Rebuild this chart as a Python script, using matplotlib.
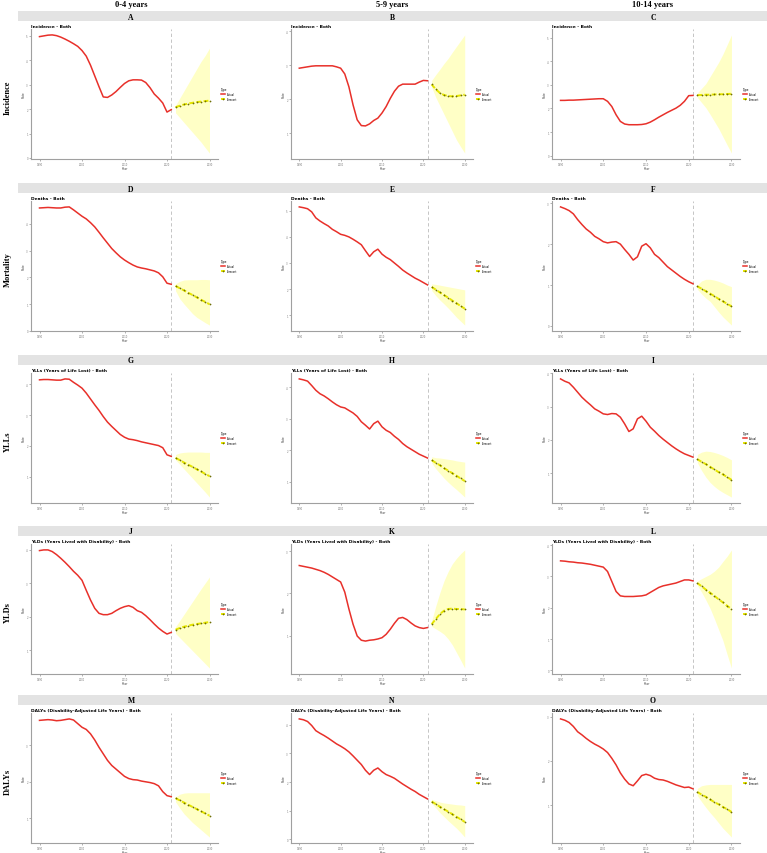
import numpy as np
import matplotlib
matplotlib.use("Agg")
from matplotlib import pyplot as plt
from matplotlib.patches import Rectangle
from matplotlib.ticker import MultipleLocator

# years
years_actual = list(range(1990, 2022))
years_fc = list(range(2022, 2031))

col_titles = ["0-4 years", "5-9 years", "10-14 years"]
row_labels = ["Incidence", "Mortality", "YLLs", "YLDs", "DALYs"]
measure_titles = ["Incidence - Both", "Deaths - Both", "YLLs (Years of Life Lost) - Both",
                  "YLDs (Years Lived with Disability) - Both",
                  "DALYs (Disability-Adjusted Life Years) - Both"]
letters = ["A", "B", "C", "D", "E", "F", "G", "H", "I", "J", "K", "L", "M", "N", "O"]

# ---- Incidence ----
a_actual = [4.97, 5.00, 5.03, 5.04, 5.01, 4.95, 4.87, 4.78, 4.68, 4.57, 4.40, 4.17, 3.80, 3.36, 2.92, 2.50,
            2.48, 2.58, 2.72, 2.89, 3.05, 3.16, 3.20, 3.20, 3.19, 3.09, 2.88, 2.62, 2.45, 2.25, 1.88, 1.98]
a_fc = [2.08, 2.14, 2.19, 2.23, 2.26, 2.29, 2.31, 2.33, 2.35]
a_hi = [2.15, 2.45, 2.75, 3.05, 3.35, 3.65, 3.95, 4.20, 4.50]
a_lo = [1.85, 1.65, 1.45, 1.25, 1.05, 0.85, 0.65, 0.42, 0.20]

b_actual = [2.91, 2.93, 2.95, 2.97, 2.98, 2.98, 2.98, 2.98, 2.98, 2.95, 2.91, 2.74, 2.36, 1.83, 1.39, 1.22,
            1.21, 1.27, 1.37, 1.44, 1.59, 1.78, 2.02, 2.23, 2.38, 2.44, 2.44, 2.44, 2.44, 2.50, 2.55, 2.54]
b_fc = [2.43, 2.29, 2.18, 2.12, 2.09, 2.08, 2.09, 2.11, 2.13]
b_hi = [2.55, 2.72, 2.88, 3.05, 3.20, 3.38, 3.55, 3.72, 3.89]
b_lo = [2.35, 2.05, 1.80, 1.55, 1.30, 1.05, 0.80, 0.60, 0.41]

c_actual = [2.34, 2.34, 2.35, 2.35, 2.36, 2.37, 2.38, 2.39, 2.40, 2.41, 2.41, 2.30, 2.08, 1.73, 1.45, 1.34,
            1.31, 1.31, 1.31, 1.32, 1.35, 1.42, 1.52, 1.63, 1.73, 1.83, 1.92, 2.01, 2.13, 2.30, 2.54, 2.55]
c_fc = [2.56, 2.57, 2.58, 2.58, 2.59, 2.60, 2.60, 2.61, 2.62]
c_hi = [2.65, 2.85, 3.05, 3.35, 3.65, 3.95, 4.30, 4.70, 5.11]
c_lo = [2.47, 2.25, 2.03, 1.75, 1.45, 1.15, 0.80, 0.45, 0.11]

# ---- Deaths ----
d_actual = [4.60, 4.61, 4.62, 4.61, 4.60, 4.60, 4.63, 4.64, 4.53, 4.41, 4.29, 4.19, 4.05, 3.89, 3.69, 3.48,
            3.28, 3.08, 2.92, 2.77, 2.65, 2.55, 2.46, 2.39, 2.35, 2.32, 2.28, 2.24, 2.17, 2.02, 1.78, 1.74]
d_fc = [1.68, 1.59, 1.51, 1.42, 1.34, 1.25, 1.16, 1.08, 0.99]
d_hi = [1.76, 1.85, 1.90, 1.91, 1.91, 1.91, 1.92, 1.92, 1.91]
d_lo = [1.50, 1.20, 1.00, 0.82, 0.64, 0.50, 0.40, 0.30, 0.21]

e_actual = [5.15, 5.12, 5.08, 4.96, 4.73, 4.61, 4.51, 4.42, 4.29, 4.20, 4.10, 4.06, 4.00, 3.91, 3.81, 3.70,
            3.47, 3.25, 3.43, 3.53, 3.34, 3.22, 3.13, 3.00, 2.87, 2.73, 2.62, 2.52, 2.42, 2.34, 2.25, 2.16]
e_fc = [2.08, 1.98, 1.87, 1.77, 1.67, 1.56, 1.46, 1.35, 1.25]
e_hi = [2.20, 2.18, 2.15, 2.12, 2.09, 2.06, 2.03, 2.00, 1.97]
e_lo = [1.95, 1.75, 1.58, 1.43, 1.27, 1.10, 0.92, 0.77, 0.62]

f_actual = [2.91, 2.87, 2.82, 2.74, 2.60, 2.48, 2.37, 2.29, 2.19, 2.13, 2.06, 2.03, 2.05, 2.06, 2.00, 1.87,
            1.75, 1.61, 1.69, 1.95, 2.01, 1.91, 1.75, 1.67, 1.56, 1.45, 1.37, 1.29, 1.21, 1.14, 1.08, 1.03]
f_fc = [0.97, 0.91, 0.85, 0.79, 0.73, 0.66, 0.60, 0.54, 0.48]
f_hi = [1.00, 1.10, 1.14, 1.14, 1.12, 1.09, 1.05, 1.00, 0.96]
f_lo = [0.90, 0.78, 0.68, 0.60, 0.47, 0.34, 0.22, 0.12, 0.02]

# ---- YLLs ----
g_actual = [4.14, 4.15, 4.15, 4.14, 4.13, 4.13, 4.17, 4.16, 4.06, 3.97, 3.87, 3.71, 3.52, 3.33, 3.15, 2.95,
            2.77, 2.63, 2.50, 2.37, 2.28, 2.22, 2.20, 2.17, 2.13, 2.10, 2.07, 2.04, 2.01, 1.94, 1.71, 1.66]
g_fc = [1.61, 1.54, 1.46, 1.39, 1.32, 1.24, 1.17, 1.09, 1.02]
g_hi = [1.72, 1.77, 1.79, 1.80, 1.80, 1.80, 1.80, 1.79, 1.79]
g_lo = [1.55, 1.40, 1.25, 1.10, 0.95, 0.80, 0.65, 0.50, 0.34]

h_actual = [4.27, 4.24, 4.20, 4.06, 3.91, 3.80, 3.73, 3.64, 3.54, 3.45, 3.38, 3.35, 3.27, 3.19, 3.08, 2.91,
            2.80, 2.68, 2.85, 2.93, 2.75, 2.64, 2.57, 2.45, 2.35, 2.22, 2.12, 2.04, 1.96, 1.88, 1.82, 1.76]
h_fc = [1.69, 1.61, 1.53, 1.44, 1.36, 1.28, 1.20, 1.11, 1.03]
h_hi = [1.80, 1.77, 1.76, 1.74, 1.72, 1.70, 1.67, 1.65, 1.63]
h_lo = [1.60, 1.42, 1.27, 1.12, 0.99, 0.87, 0.76, 0.64, 0.52]

i_actual = [3.83, 3.76, 3.71, 3.58, 3.43, 3.28, 3.16, 3.05, 2.93, 2.86, 2.78, 2.76, 2.79, 2.78, 2.68, 2.48,
            2.25, 2.33, 2.63, 2.71, 2.56, 2.38, 2.26, 2.13, 2.02, 1.92, 1.82, 1.73, 1.65, 1.58, 1.53, 1.48]
i_fc = [1.42, 1.34, 1.27, 1.19, 1.11, 1.03, 0.96, 0.88, 0.80]
i_hi = [1.56, 1.63, 1.66, 1.65, 1.62, 1.58, 1.53, 1.47, 1.40]
i_lo = [1.32, 1.08, 0.88, 0.72, 0.60, 0.50, 0.42, 0.35, 0.28]

# ---- YLDs ----
j_actual = [3.98, 4.00, 4.00, 3.95, 3.86, 3.75, 3.63, 3.50, 3.36, 3.24, 3.09, 2.79, 2.50, 2.25, 2.10, 2.06,
            2.06, 2.10, 2.18, 2.25, 2.30, 2.33, 2.28, 2.18, 2.13, 2.03, 1.91, 1.78, 1.66, 1.56, 1.48, 1.53]
j_fc = [1.61, 1.66, 1.70, 1.73, 1.76, 1.78, 1.80, 1.82, 1.84]
j_hi = [1.70, 1.88, 2.07, 2.26, 2.45, 2.64, 2.83, 3.01, 3.19]
j_lo = [1.50, 1.37, 1.24, 1.11, 0.98, 0.85, 0.72, 0.59, 0.46]

k_actual = [2.66, 2.64, 2.62, 2.60, 2.57, 2.54, 2.50, 2.45, 2.39, 2.33, 2.27, 2.03, 1.63, 1.27, 0.99, 0.89,
            0.87, 0.89, 0.90, 0.92, 0.95, 1.03, 1.15, 1.29, 1.41, 1.43, 1.38, 1.30, 1.23, 1.19, 1.17, 1.19]
k_fc = [1.27, 1.39, 1.51, 1.59, 1.63, 1.64, 1.63, 1.63, 1.62]
k_hi = [1.35, 1.70, 2.02, 2.30, 2.52, 2.70, 2.83, 2.94, 3.03]
k_lo = [1.22, 1.16, 1.10, 1.03, 0.92, 0.78, 0.60, 0.42, 0.23]

l_actual = [3.50, 3.49, 3.47, 3.46, 3.44, 3.43, 3.41, 3.39, 3.36, 3.33, 3.30, 3.16, 2.84, 2.52, 2.38, 2.36,
            2.36, 2.36, 2.37, 2.38, 2.41, 2.49, 2.57, 2.65, 2.70, 2.73, 2.76, 2.79, 2.84, 2.89, 2.89, 2.86]
l_fc = [2.79, 2.69, 2.58, 2.48, 2.38, 2.27, 2.17, 2.06, 1.96]
l_hi = [2.85, 2.93, 3.00, 3.07, 3.17, 3.30, 3.48, 3.65, 3.85]
l_lo = [2.72, 2.50, 2.25, 1.98, 1.65, 1.30, 0.95, 0.50, 0.07]

# ---- DALYs ----
m_actual = [3.69, 3.70, 3.71, 3.70, 3.68, 3.69, 3.71, 3.73, 3.70, 3.60, 3.50, 3.44, 3.32, 3.15, 2.95, 2.77,
            2.59, 2.45, 2.35, 2.25, 2.15, 2.09, 2.06, 2.05, 2.02, 2.00, 1.98, 1.95, 1.89, 1.73, 1.62, 1.59]
m_fc = [1.55, 1.49, 1.43, 1.37, 1.31, 1.25, 1.19, 1.13, 1.07]
m_hi = [1.58, 1.66, 1.69, 1.70, 1.70, 1.70, 1.70, 1.70, 1.70]
m_lo = [1.45, 1.28, 1.12, 1.00, 0.88, 0.78, 0.68, 0.58, 0.48]

n_actual = [4.20, 4.17, 4.11, 3.97, 3.79, 3.70, 3.62, 3.53, 3.43, 3.33, 3.25, 3.16, 3.05, 2.91, 2.76, 2.61,
            2.41, 2.26, 2.41, 2.49, 2.36, 2.26, 2.20, 2.13, 2.03, 1.93, 1.84, 1.75, 1.67, 1.57, 1.49, 1.41]
n_fc = [1.32, 1.23, 1.14, 1.05, 0.97, 0.88, 0.79, 0.70, 0.61]
n_hi = [1.40, 1.35, 1.30, 1.27, 1.25, 1.23, 1.21, 1.20, 1.18]
n_lo = [1.25, 1.10, 0.93, 0.79, 0.65, 0.52, 0.39, 0.24, 0.08]

o_actual = [2.95, 2.92, 2.87, 2.78, 2.66, 2.59, 2.51, 2.44, 2.38, 2.33, 2.27, 2.19, 2.06, 1.91, 1.73, 1.59,
            1.48, 1.44, 1.55, 1.67, 1.70, 1.67, 1.61, 1.58, 1.57, 1.54, 1.50, 1.46, 1.43, 1.40, 1.41, 1.37]
o_fc = [1.30, 1.24, 1.19, 1.13, 1.07, 1.02, 0.96, 0.91, 0.85]
o_hi = [1.38, 1.44, 1.46, 1.47, 1.47, 1.47, 1.47, 1.47, 1.47]
o_lo = [1.22, 1.08, 0.95, 0.83, 0.72, 0.60, 0.48, 0.38, 0.28]

panels = [
    (a_actual, a_fc, a_lo, a_hi), (b_actual, b_fc, b_lo, b_hi), (c_actual, c_fc, c_lo, c_hi),
    (d_actual, d_fc, d_lo, d_hi), (e_actual, e_fc, e_lo, e_hi), (f_actual, f_fc, f_lo, f_hi),
    (g_actual, g_fc, g_lo, g_hi), (h_actual, h_fc, h_lo, h_hi), (i_actual, i_fc, i_lo, i_hi),
    (j_actual, j_fc, j_lo, j_hi), (k_actual, k_fc, k_lo, k_hi), (l_actual, l_fc, l_lo, l_hi),
    (m_actual, m_fc, m_lo, m_hi), (n_actual, n_fc, n_lo, n_hi), (o_actual, o_fc, o_lo, o_hi),
]

W, H = 767, 854
fig = plt.figure(figsize=(W / 100, H / 100), dpi=100)
fig.patch.set_facecolor("white")

serif = "Liberation Serif"
strip_tops = [12, 184, 356, 527, 696]
col_lr = [(31, 218), (291, 473), (552, 740)]
col_centers = [131, 392, 653]


def fx(px):
    return px / W


def fy(py):
    return 1 - py / H


# column headers
for c, t in enumerate(col_titles):
    fig.text(fx(col_centers[c]), fy(5), t, ha="center", va="center",
             family=serif, fontweight="bold", fontsize=6)

for r in range(5):
    st = strip_tops[r]
    # grey strip across the row
    fig.patches.append(Rectangle((fx(18), fy(st + 10)), fx(767) - fx(18), 10 / H,
                                 transform=fig.transFigure, facecolor="#E3E3E3",
                                 edgecolor="none", zorder=0))
    fig.text(fx(8), fy(st + 86), row_labels[r], rotation=90, ha="center", va="center",
             family=serif, fontweight="bold", fontsize=6)

    for c in range(3):
        idx = r * 3 + c
        actual, fc, lo, hi = panels[idx]
        fig.text(fx(col_centers[c]), fy(st + 5.5), letters[idx], ha="center", va="center",
                 family=serif, fontweight="bold", fontsize=5.5)

        left, right = col_lr[c]
        top, bottom = st + 18, st + 148
        ax = fig.add_axes([fx(left), fy(bottom), (right - left) / W, (bottom - top) / H])

        ax.fill_between(years_fc, lo, hi, color="#FFFFB8", alpha=0.8, linewidth=0, zorder=1)
        ax.axvline(2021, color="#BBBBBB", linestyle=(0, (4, 3)), linewidth=0.6, zorder=1)
        ax.plot(years_actual, actual, color="#E8302A", linewidth=1.1, label="Actual", zorder=3)
        ax.plot(years_fc, fc, color="#E6E600", linewidth=1.4, linestyle=(0, (2.5, 1.2)),
                marker="o", markersize=0.9, markerfacecolor="#6E6E00",
                markeredgecolor="#6E6E00", markeredgewidth=0.3, label="Forecast", zorder=4)

        ax.margins(x=0.05, y=0.05)
        ax.set_xticks([1990, 2000, 2010, 2020, 2030])
        ax.yaxis.set_major_locator(MultipleLocator(1))
        ax.tick_params(labelsize=1.8, length=1.2, width=0.4, colors="#777777", pad=1)
        for s in ["top", "right"]:
            ax.spines[s].set_visible(False)
        for s in ["left", "bottom"]:
            ax.spines[s].set_color("#A0A0A0")
            ax.spines[s].set_linewidth(0.8)
        ax.set_xlabel("Year", fontsize=2.2, labelpad=0.3, color="#444444")
        ax.set_ylabel("Rate", fontsize=2.2, labelpad=0.5, color="#444444")
        ax.set_title(measure_titles[r], loc="left", fontsize=3.2, fontweight="bold", pad=1.5)

        leg = ax.legend(title="Type", loc="center left", bbox_to_anchor=(1.01, 0.5),
                        fontsize=1.8, title_fontsize=2.0, frameon=False,
                        handlelength=1.5, borderaxespad=0.2, labelspacing=0.3)
        leg._legend_box.align = "left"

fig.savefig("out.png", dpi=100, facecolor="white")
